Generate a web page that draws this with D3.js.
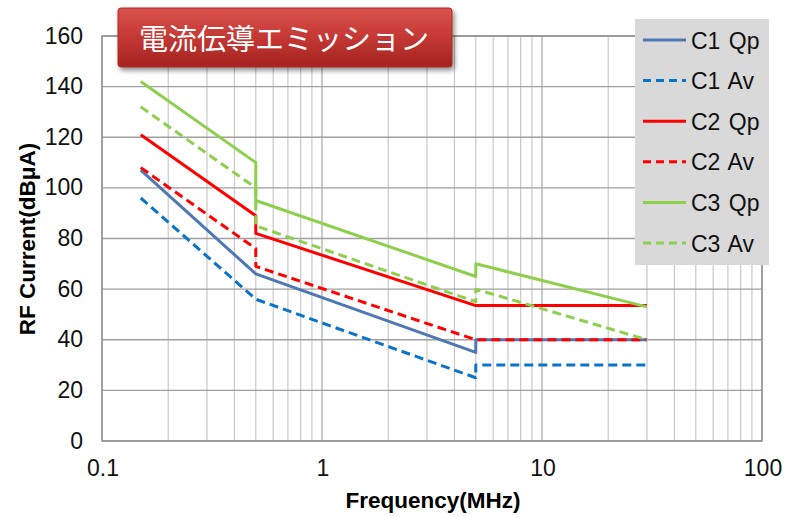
<!DOCTYPE html>
<html>
<head>
<meta charset="utf-8">
<script src="https://cdn.jsdelivr.net/npm/d3@7"></script>
<style>
  body { margin: 0; background: #fff; }
  svg { display: block; font-family: "Liberation Sans", Arial, sans-serif; }
</style>
</head>
<body>
<div id="chart"></div>
<script>
// series data (frequency MHz / level dBuA)
const seriesNames = ["C1 Qp", "C1 Av", "C2 Qp", "C2 Av", "C3 Qp", "C3 Av"];
const c1QpFreq = [0.15, 0.5, 5, 5, 30];
const c1QpVal  = [107, 66, 35, 40, 40];
const c1AvFreq = [0.15, 0.5, 5, 5, 30];
const c1AvVal  = [96, 56, 25, 30, 30];
const c2QpFreq = [0.15, 0.5, 0.5, 5, 30];
const c2QpVal  = [121, 89, 82, 53.5, 53.5];
const c2AvFreq = [0.15, 0.5, 0.5, 5, 30];
const c2AvVal  = [108, 76, 69, 40, 40];
const c3QpFreq = [0.15, 0.5, 0.5, 5, 5, 30];
const c3QpVal  = [142, 110, 95, 65, 70, 53];
const c3AvFreq = [0.15, 0.5, 0.5, 5, 5, 30];
const c3AvVal  = [132, 100, 85, 55, 60, 40];
const xTicks = [0.1, 1, 10, 100];
const yTicks = [0, 20, 40, 60, 80, 100, 120, 140, 160];
const titleText = "電流伝導エミッション";

const series = [
  { name: seriesNames[0], f: c1QpFreq, v: c1QpVal, color: "#4f77b3", dash: null },
  { name: seriesNames[1], f: c1AvFreq, v: c1AvVal, color: "#0a74c8", dash: "9,5" },
  { name: seriesNames[2], f: c2QpFreq, v: c2QpVal, color: "#ff0000", dash: null },
  { name: seriesNames[3], f: c2AvFreq, v: c2AvVal, color: "#ff0000", dash: "9,5" },
  { name: seriesNames[4], f: c3QpFreq, v: c3QpVal, color: "#8fcf4e", dash: null },
  { name: seriesNames[5], f: c3AvFreq, v: c3AvVal, color: "#8fcf4e", dash: "9,5" }
];

const width = 787, height = 517;
const pLeft = 102, pRight = 762, pTop = 36, pBottom = 441;

const svg = d3.select("#chart").append("svg")
  .attr("width", width).attr("height", height);

const x = d3.scaleLog().domain([0.1, 100]).range([pLeft, pRight]);
const y = d3.scaleLinear().domain([0, 160]).range([pBottom, pTop]);

// vertical grid (log decades incl. minor)
const minor = x.ticks(40);
svg.append("g").selectAll("line").data(minor).enter().append("line")
  .attr("x1", d => x(d)).attr("x2", d => x(d))
  .attr("y1", pTop).attr("y2", pBottom)
  .attr("stroke", d => xTicks.includes(d) ? "#a6a6a6" : "#c9c9c9")
  .attr("stroke-width", 1.2);

// horizontal grid
svg.append("g").selectAll("line").data(yTicks).enter().append("line")
  .attr("x1", pLeft).attr("x2", pRight)
  .attr("y1", d => y(d)).attr("y2", d => y(d))
  .attr("stroke", "#a0a0a0").attr("stroke-width", 1.3);

// frame
svg.append("rect").attr("x", pLeft).attr("y", pTop)
  .attr("width", pRight - pLeft).attr("height", pBottom - pTop)
  .attr("fill", "none").attr("stroke", "#8c8c8c").attr("stroke-width", 1.3);

// tick labels
svg.append("g").selectAll("text").data(yTicks).enter().append("text")
  .attr("x", 83).attr("y", d => y(d) + 7.5)
  .attr("text-anchor", "end").attr("font-size", 23).attr("fill", "#111")
  .text(d => d);

svg.append("g").selectAll("text").data(xTicks).enter().append("text")
  .attr("x", d => x(d) + 1).attr("y", 476)
  .attr("text-anchor", "middle").attr("font-size", 23).attr("fill", "#111")
  .text(d => d);

// axis titles
svg.append("text").attr("x", 433).attr("y", 508)
  .attr("text-anchor", "middle").attr("font-size", 22.5).attr("font-weight", "bold")
  .text("Frequency(MHz)");

svg.append("text")
  .attr("transform", `translate(35, 239) rotate(-90)`)
  .attr("text-anchor", "middle").attr("font-size", 22.5).attr("font-weight", "bold")
  .text("RF Current(dBμA)");

// lines
const line = d3.line().x(d => x(d[0])).y(d => y(d[1]));
series.forEach(s => {
  svg.append("path")
    .datum(s.f.map((f, i) => [f, s.v[i]]))
    .attr("d", line)
    .attr("fill", "none")
    .attr("stroke", s.color)
    .attr("stroke-width", 3)
    .attr("stroke-dasharray", s.dash)
    .attr("stroke-linejoin", "round");
});

// title box
const defs = svg.append("defs");
const grad = defs.append("linearGradient").attr("id", "redg")
  .attr("x1", 0).attr("y1", 0).attr("x2", 0).attr("y2", 1);
grad.append("stop").attr("offset", "0%").attr("stop-color", "#d9534f");
grad.append("stop").attr("offset", "45%").attr("stop-color", "#c73a36");
grad.append("stop").attr("offset", "100%").attr("stop-color", "#a3231f");
const shadow = defs.append("filter").attr("id", "sh")
  .attr("x", "-10%").attr("y", "-20%").attr("width", "130%").attr("height", "160%");
shadow.append("feDropShadow").attr("dx", 2).attr("dy", 3)
  .attr("stdDeviation", 2.5).attr("flood-color", "#000").attr("flood-opacity", 0.45);

svg.append("rect").attr("x", 118).attr("y", 8)
  .attr("width", 334).attr("height", 59).attr("rx", 3)
  .attr("fill", "url(#redg)").attr("stroke", "#b02a26").attr("stroke-width", 1)
  .attr("filter", "url(#sh)");
svg.append("text").attr("x", 284).attr("y", 50)
  .attr("text-anchor", "middle").attr("font-size", 29).attr("fill", "#fff")
  .attr("font-family", "'Noto Sans CJK JP', sans-serif")
  .text(titleText);

// legend
const lg = svg.append("g");
lg.append("rect").attr("x", 635).attr("y", 19)
  .attr("width", 134).attr("height", 246).attr("fill", "#d9d9d9");
series.forEach((s, i) => {
  const ly = 40 + i * 40.6;
  lg.append("line").attr("x1", 643).attr("x2", 686)
    .attr("y1", ly).attr("y2", ly)
    .attr("stroke", s.color).attr("stroke-width", 3)
    .attr("stroke-dasharray", s.dash ? "8,5" : null);
  lg.append("text").attr("x", 691).attr("y", ly + 8.5)
    .attr("font-size", 23).attr("fill", "#111")
    .attr("word-spacing", 2)
    .text(s.name);
});
</script>
</body>
</html>
